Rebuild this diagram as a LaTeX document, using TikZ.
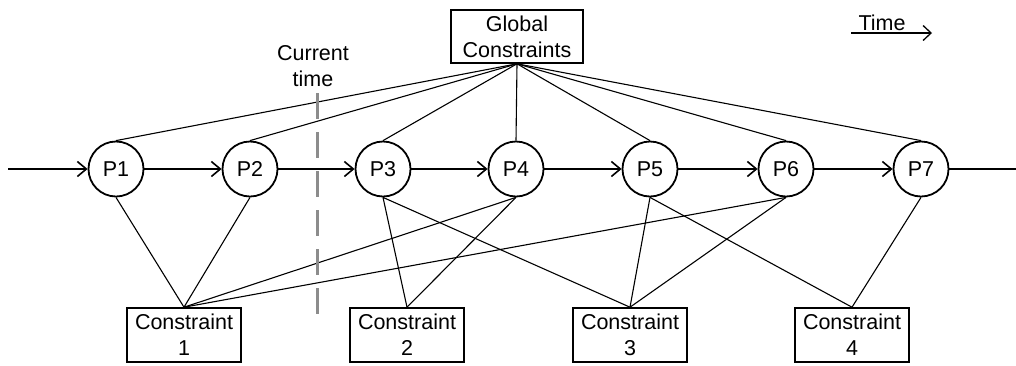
\documentclass[tikz,border=0pt]{standalone}
\usepackage{fontspec}
\setmainfont{Liberation Sans}
\usetikzlibrary{arrows.meta}
\begin{document}
\begin{tikzpicture}[x=1pt,y=-1pt,
  txt/.style={font=\fontsize{21.5}{26}\selectfont},
  proc/.style={circle,draw,line width=1.8pt,minimum size=55pt,inner sep=0pt,txt},
  cbox/.style={draw,line width=1.6pt,minimum width=114pt,minimum height=54pt,inner sep=0pt,align=center,txt},
  gbox/.style={draw,line width=1.6pt,minimum width=132pt,minimum height=53pt,inner sep=0pt,align=center,txt},
  link/.style={line width=1.1pt},
  flow/.style={line width=1.8pt,-{Straight Barb[length=9pt,width=15pt,line width=1.6pt]}},
  nowline/.style={draw=black!45,line width=3pt,dash pattern=on 26pt off 13pt}
]
\useasboundingbox (0,0) rectangle (1016,365);

\node[proc] (p1) at (116,169) {P1};
\node[proc] (p2) at (250,169) {P2};
\node[proc] (p3) at (383,169) {P3};
\node[proc] (p4) at (516,169) {P4};
\node[proc] (p5) at (650,169) {P5};
\node[proc] (p6) at (786,169) {P6};
\node[proc] (p7) at (921,169) {P7};

\node[gbox] (g) at (517,36.5) {Global\\Constraints};

\node[cbox] (c1) at (184,335) {Constraint\\1};
\node[cbox] (c2) at (407,335) {Constraint\\2};
\node[cbox] (c3) at (630,335) {Constraint\\3};
\node[cbox] (c4) at (852,335) {Constraint\\4};

% time flow
\coordinate (in) at (8,169);
\coordinate (out) at (1016,169);
\draw[flow] (in) -- (p1);
\draw[flow] (p1) -- (p2);
\draw[flow] (p2) -- (p3);
\draw[flow] (p3) -- (p4);
\draw[flow] (p4) -- (p5);
\draw[flow] (p5) -- (p6);
\draw[flow] (p6) -- (p7);
\draw[line width=1.8pt] (p7) -- (out);

% global constraints
\foreach \p in {p1,p2,p3,p4,p5,p6,p7}
  \draw[link] (g.south) -- (\p.north);

% local constraints
\draw[link] (p1.south) -- (c1.north);
\draw[link] (p2.south) -- (c1.north);
\draw[link] (p4.south) -- (c1.north);
\draw[link] (p6.south) -- (c1.north);
\draw[link] (p3.south) -- (c2.north);
\draw[link] (p4.south) -- (c2.north);
\draw[link] (p3.south) -- (c3.north);
\draw[link] (p5.south) -- (c3.north);
\draw[link] (p6.south) -- (c3.north);
\draw[link] (p5.south) -- (c4.north);
\draw[link] (p7.south) -- (c4.north);

% current time
\coordinate (nt) at (317,93);
\coordinate (nb) at (317,323);
\draw[nowline] (nt) -- (nb);
\node[txt,align=center,inner sep=0pt] (cur) at (313,66) {Current\\time};

% time legend
\coordinate (ta) at (851,33);
\coordinate (tb) at (932,33);
\draw[line width=1.3pt,-{Straight Barb[length=8pt,width=15pt,line width=1.3pt]}] (ta) -- (tb);
\node[txt,anchor=base,inner sep=0pt] (tl) at (882,30) {Time};
\end{tikzpicture}
\end{document}
